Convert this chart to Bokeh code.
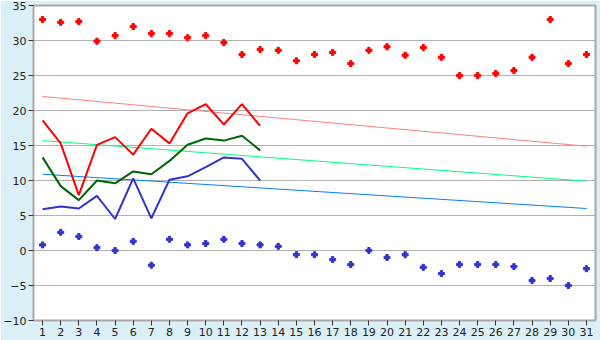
from bokeh.plotting import figure
from bokeh.models import Range1d, FixedTicker
from bokeh.embed import file_html
from bokeh.resources import INLINE

days = list(range(1, 32))
rec_max = [33.0, 32.6, 32.7, 29.9, 30.7, 32.0, 31.0, 31.0, 30.4, 30.7, 29.7, 28.0, 28.7, 28.6, 27.1,
           28.0, 28.3, 26.7, 28.6, 29.1, 27.9, 29.0, 27.6, 25.0, 25.0, 25.3, 25.7, 27.6, 33.0, 26.7, 28.0]
rec_min = [0.8, 2.6, 2.0, 0.4, 0.0, 1.3, -2.1, 1.6, 0.8, 1.0, 1.6, 1.0, 0.8, 0.6, -0.6,
           -0.6, -1.3, -2.0, 0.0, -1.0, -0.6, -2.4, -3.3, -2.0, -2.0, -2.0, -2.3, -4.3, -4.0, -5.0, -2.6]
obs_days = list(range(1, 14))
obs_max = [18.6, 15.3, 7.9, 15.1, 16.2, 13.7, 17.4, 15.3, 19.6, 20.9, 18.0, 20.9, 17.8]
obs_mean = [13.3, 9.2, 7.2, 10.0, 9.6, 11.3, 10.9, 12.8, 15.1, 16.0, 15.7, 16.4, 14.3]
obs_min = [5.9, 6.3, 6.0, 7.8, 4.5, 10.3, 4.6, 10.1, 10.6, 11.9, 13.3, 13.1, 10.0]
trend_days = [1, 31]
norm_max = [22.0, 14.9]
norm_mean = [15.7, 9.9]
norm_min = [10.9, 6.0]
y_ticks = [-10, -5, 0, 5, 10, 15, 20, 25, 30, 35]

p = figure(width=600, height=340, output_backend="svg", toolbar_location=None,
           x_range=Range1d(0.5, 31.5), y_range=Range1d(-10, 35),
           min_border_left=27, min_border_right=5, min_border_top=5, min_border_bottom=20)
p.border_fill_color = "#daeff6"
p.background_fill_color = "white"
p.outline_line_color = "#a8a8a8"
p.outline_line_width = 2

p.xgrid.visible = False
p.ygrid.grid_line_color = "#b0b0b0"
p.ygrid.grid_line_width = 1

p.xaxis.ticker = FixedTicker(ticks=days)
p.yaxis.ticker = FixedTicker(ticks=y_ticks)
for ax in (p.xaxis[0], p.yaxis[0]):
    ax.axis_line_color = "#a8a8a8"
    ax.major_tick_line_color = "#333333"
    ax.minor_tick_line_color = None
    ax.major_tick_in = 0
    ax.major_tick_out = 5
    ax.major_label_text_font = "DejaVu Sans"
    ax.major_label_text_font_size = "11px"
    ax.major_label_text_color = "#222222"
    ax.major_label_standoff = 2
p.yaxis[0].major_label_overrides = {t: str(t).replace("-", "\u2212") for t in y_ticks}

p.line(trend_days, norm_max, line_color="#ff8080", line_width=1)
p.line(trend_days, norm_mean, line_color="#00ff80", line_width=1)
p.line(trend_days, norm_min, line_color="#0080ff", line_width=1)

p.line(obs_days, obs_max, line_color="#ff0000", line_width=2)
p.line(obs_days, obs_mean, line_color="#006400", line_width=2)
p.line(obs_days, obs_min, line_color="#3333cc", line_width=2)

p.scatter(days, rec_max, marker="plus", size=6, fill_color="#ff0000", line_color="#ff0000")
p.scatter(days, rec_min, marker="plus", size=6, fill_color="#3333cc", line_color="#3333cc")

open("out.html", "w").write(file_html(p, INLINE))
